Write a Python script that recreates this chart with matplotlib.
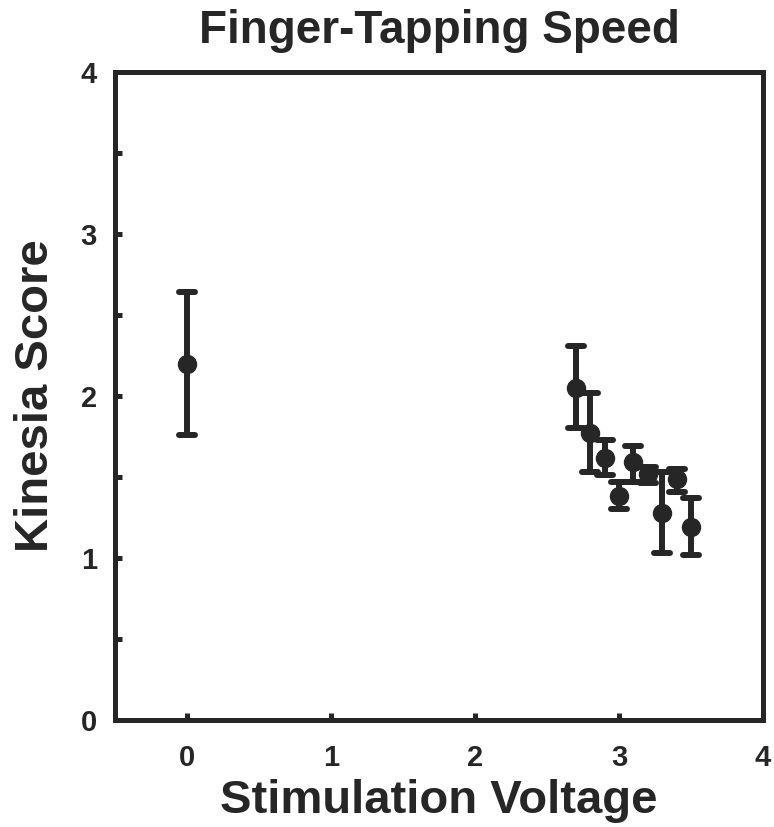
import matplotlib.pyplot as plt
from matplotlib.ticker import MultipleLocator
from matplotlib.markers import MarkerStyle

plt.rcParams['font.family'] = ['Liberation Sans', 'DejaVu Sans']
plt.rcParams['font.weight'] = 'bold'

voltage = [0.0, 2.7, 2.8, 2.9, 3.0, 3.1, 3.2, 3.3, 3.4, 3.5]
score = [2.20, 2.05, 1.77, 1.62, 1.38, 1.59, 1.52, 1.28, 1.49, 1.19]
upper = [2.64, 2.31, 2.02, 1.73, 1.47, 1.69, 1.56, 1.53, 1.55, 1.37]
lower = [1.76, 1.80, 1.53, 1.51, 1.30, 1.47, 1.46, 1.03, 1.41, 1.02]

dark = '#262626'
err = [[s - l for s, l in zip(score, lower)], [u - s for s, u in zip(score, upper)]]

fig = plt.figure(figsize=(7.74, 8.27), dpi=100)
ax = fig.add_axes([0.1486, 0.1294, 0.8372, 0.7836])

eb = ax.errorbar(voltage, score, yerr=err, fmt='o', color=dark, ms=13,
                 elinewidth=4.3, capsize=6, capthick=4.3)
for cap in eb[1]:
    cap.set_marker(MarkerStyle('_', capstyle='round'))
for lc in eb[2]:
    lc.set_capstyle('round')

ax.set_xlim(-0.5, 4)
ax.set_ylim(0, 4)
ax.xaxis.set_major_locator(MultipleLocator(1))
ax.yaxis.set_major_locator(MultipleLocator(1))
ax.yaxis.set_minor_locator(MultipleLocator(0.5))
ax.tick_params(which='both', direction='in', width=3.6, color=dark, length=5,
               labelsize=21, labelcolor=dark)
ax.tick_params(axis='x', pad=17)
ax.tick_params(axis='y', pad=13)
for sp in ax.spines.values():
    sp.set_linewidth(3.6)
    sp.set_color(dark)

ax.set_title('Finger-Tapping Speed', fontsize=33, fontweight='bold', color=dark, pad=21)
ax.set_xlabel('Stimulation Voltage', fontsize=34, fontweight='bold', color=dark, labelpad=5)
ax.set_ylabel('Kinesia Score', fontsize=34, fontweight='bold', color=dark, labelpad=16)

fig.savefig('out.png', dpi=100)
